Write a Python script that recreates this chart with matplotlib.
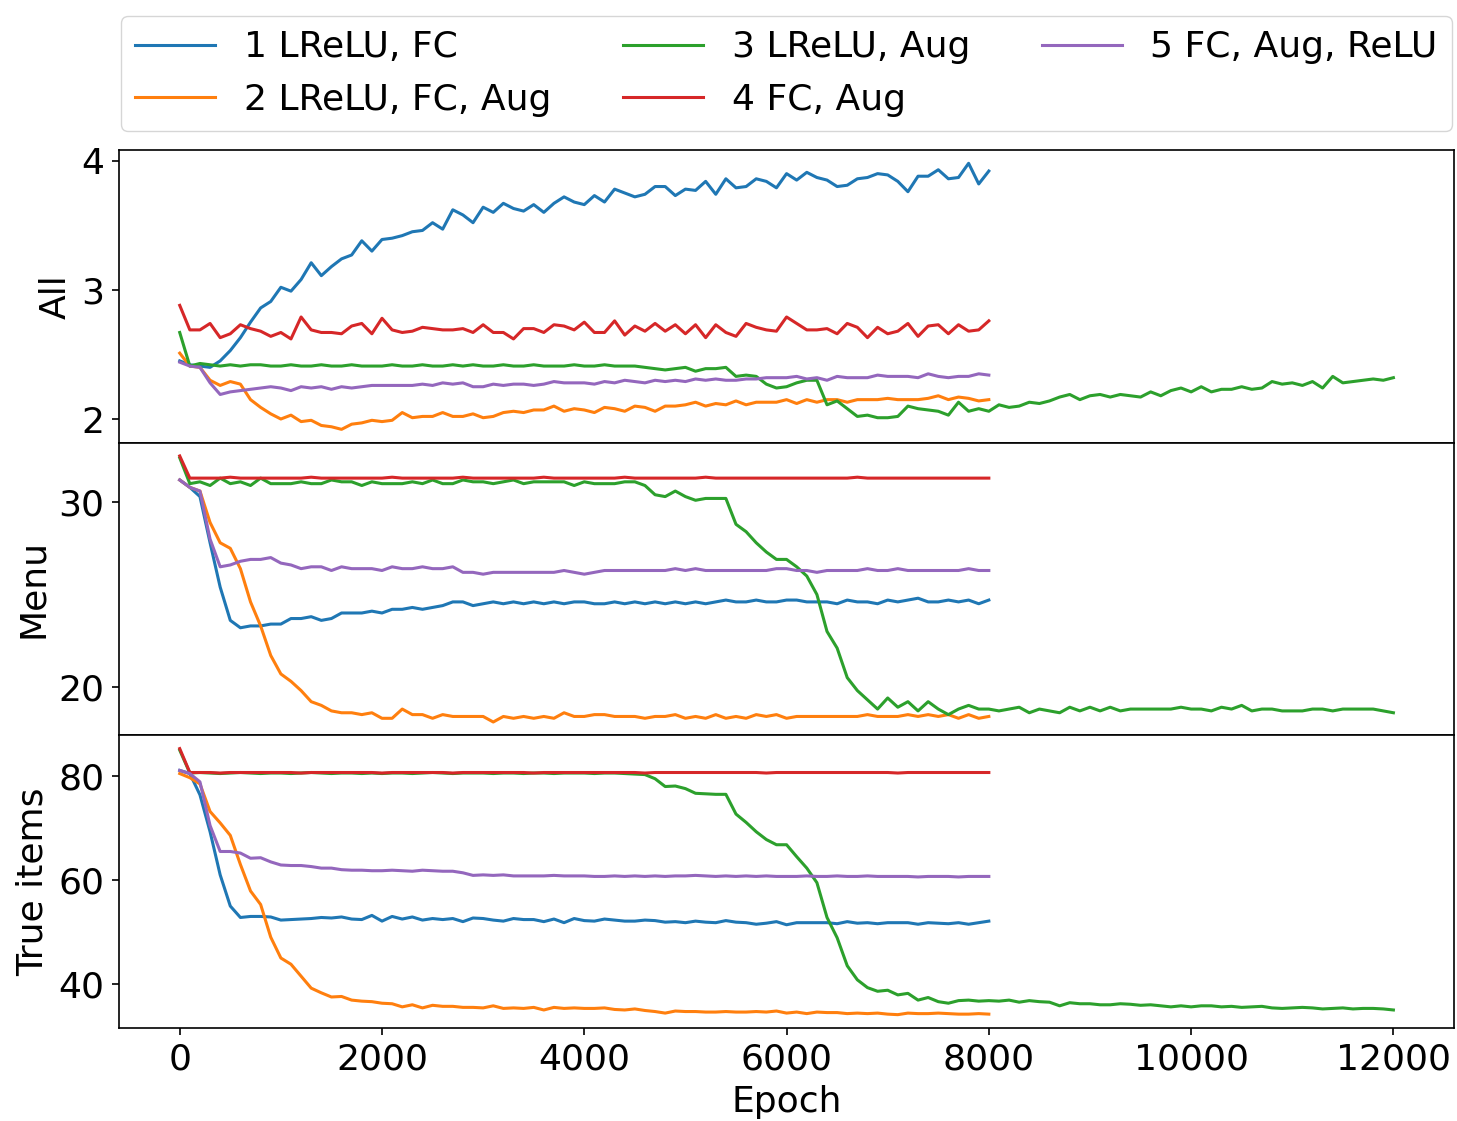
import numpy as np
import matplotlib
matplotlib.use("Agg")
import matplotlib.pyplot as plt

# ---------------- data ----------------
labels = ["1 LReLU, FC", "2 LReLU, FC, Aug", "3 LReLU, Aug", "4 FC, Aug", "5 FC, Aug, ReLU"]
panel_names = ["All", "Menu", "True items"]

epochs_8k = list(range(0, 8001, 100))
epochs_12k = list(range(0, 12001, 100))

# ---- panel "All" ----
all_lrelu_fc = [
    2.45, 2.42, 2.41, 2.40, 2.45, 2.53, 2.63, 2.75, 2.86, 2.91,
    3.02, 2.99, 3.08, 3.21, 3.11, 3.18, 3.24, 3.27, 3.38, 3.30,
    3.39, 3.40, 3.42, 3.45, 3.46, 3.52, 3.47, 3.62, 3.58, 3.52,
    3.64, 3.60, 3.67, 3.63, 3.61, 3.66, 3.60, 3.67, 3.72, 3.68,
    3.66, 3.73, 3.68, 3.78, 3.75, 3.72, 3.74, 3.80, 3.80, 3.73,
    3.78, 3.77, 3.84, 3.74, 3.86, 3.79, 3.80, 3.86, 3.84, 3.79,
    3.90, 3.85, 3.91, 3.87, 3.85, 3.80, 3.81, 3.86, 3.87, 3.90,
    3.89, 3.84, 3.76, 3.88, 3.88, 3.93, 3.86, 3.87, 3.98, 3.82,
    3.92]
all_lrelu_fc_aug = [
    2.51, 2.41, 2.40, 2.30, 2.26, 2.29, 2.27, 2.15, 2.09, 2.04,
    2.00, 2.03, 1.98, 1.99, 1.95, 1.94, 1.92, 1.96, 1.97, 1.99,
    1.98, 1.99, 2.05, 2.01, 2.02, 2.02, 2.05, 2.02, 2.02, 2.04,
    2.01, 2.02, 2.05, 2.06, 2.05, 2.07, 2.07, 2.10, 2.06, 2.08,
    2.07, 2.05, 2.09, 2.08, 2.06, 2.10, 2.09, 2.06, 2.10, 2.10,
    2.11, 2.13, 2.10, 2.12, 2.11, 2.14, 2.11, 2.13, 2.13, 2.13,
    2.15, 2.12, 2.15, 2.13, 2.15, 2.15, 2.13, 2.15, 2.15, 2.15,
    2.16, 2.15, 2.15, 2.15, 2.16, 2.18, 2.15, 2.17, 2.16, 2.14,
    2.15]
all_lrelu_aug = [
    2.67, 2.41, 2.43, 2.42, 2.41, 2.42, 2.41, 2.42, 2.42, 2.41,
    2.41, 2.42, 2.41, 2.41, 2.42, 2.41, 2.41, 2.42, 2.41, 2.41,
    2.41, 2.42, 2.41, 2.41, 2.42, 2.41, 2.41, 2.42, 2.41, 2.42,
    2.41, 2.41, 2.42, 2.41, 2.41, 2.42, 2.41, 2.41, 2.41, 2.42,
    2.41, 2.41, 2.42, 2.41, 2.41, 2.41, 2.40, 2.39, 2.38, 2.39,
    2.40, 2.37, 2.39, 2.39, 2.40, 2.33, 2.34, 2.33, 2.27, 2.24,
    2.25, 2.28, 2.30, 2.30, 2.11, 2.14, 2.08, 2.02, 2.03, 2.01,
    2.01, 2.02, 2.10, 2.08, 2.07, 2.06, 2.03, 2.13, 2.06, 2.08,
    2.06, 2.11, 2.09, 2.10, 2.13, 2.12, 2.14, 2.17, 2.19, 2.15,
    2.18, 2.19, 2.17, 2.19, 2.18, 2.17, 2.21, 2.18, 2.22, 2.24,
    2.21, 2.25, 2.21, 2.23, 2.23, 2.25, 2.23, 2.24, 2.29, 2.27,
    2.28, 2.26, 2.29, 2.24, 2.33, 2.28, 2.29, 2.30, 2.31, 2.30,
    2.32]
all_fc_aug = [
    2.88, 2.69, 2.69, 2.74, 2.63, 2.66, 2.73, 2.70, 2.68, 2.64,
    2.67, 2.62, 2.79, 2.69, 2.67, 2.67, 2.66, 2.72, 2.74, 2.66,
    2.78, 2.69, 2.67, 2.68, 2.71, 2.70, 2.69, 2.69, 2.70, 2.67,
    2.73, 2.67, 2.67, 2.62, 2.70, 2.70, 2.67, 2.73, 2.72, 2.69,
    2.75, 2.67, 2.67, 2.76, 2.65, 2.72, 2.68, 2.74, 2.68, 2.73,
    2.66, 2.73, 2.63, 2.73, 2.67, 2.64, 2.74, 2.71, 2.69, 2.68,
    2.79, 2.74, 2.69, 2.69, 2.70, 2.66, 2.74, 2.71, 2.63, 2.71,
    2.66, 2.68, 2.74, 2.64, 2.72, 2.73, 2.66, 2.73, 2.68, 2.69,
    2.76]
all_fc_aug_relu = [
    2.44, 2.41, 2.40, 2.28, 2.19, 2.21, 2.22, 2.23, 2.24, 2.25,
    2.24, 2.22, 2.25, 2.24, 2.25, 2.23, 2.25, 2.24, 2.25, 2.26,
    2.26, 2.26, 2.26, 2.26, 2.27, 2.26, 2.28, 2.27, 2.28, 2.25,
    2.25, 2.27, 2.26, 2.27, 2.27, 2.26, 2.27, 2.29, 2.28, 2.28,
    2.28, 2.27, 2.29, 2.28, 2.30, 2.29, 2.28, 2.30, 2.29, 2.30,
    2.29, 2.31, 2.30, 2.31, 2.30, 2.30, 2.31, 2.31, 2.32, 2.32,
    2.32, 2.33, 2.31, 2.32, 2.30, 2.33, 2.32, 2.32, 2.32, 2.34,
    2.33, 2.33, 2.33, 2.32, 2.35, 2.33, 2.32, 2.33, 2.33, 2.35,
    2.34]

# ---- panel "Menu" ----
menu_lrelu_fc = [
    31.2, 30.8, 30.3, 27.8, 25.4, 23.6, 23.2, 23.3, 23.3, 23.4,
    23.4, 23.7, 23.7, 23.8, 23.6, 23.7, 24.0, 24.0, 24.0, 24.1,
    24.0, 24.2, 24.2, 24.3, 24.2, 24.3, 24.4, 24.6, 24.6, 24.4,
    24.5, 24.6, 24.5, 24.6, 24.5, 24.6, 24.5, 24.6, 24.5, 24.6,
    24.6, 24.5, 24.5, 24.6, 24.5, 24.6, 24.5, 24.6, 24.5, 24.6,
    24.5, 24.6, 24.5, 24.6, 24.7, 24.6, 24.6, 24.7, 24.6, 24.6,
    24.7, 24.7, 24.6, 24.6, 24.6, 24.5, 24.7, 24.6, 24.6, 24.5,
    24.7, 24.6, 24.7, 24.8, 24.6, 24.6, 24.7, 24.6, 24.7, 24.5,
    24.7]
menu_lrelu_fc_aug = [
    31.2, 30.8, 30.6, 28.9, 27.8, 27.5, 26.4, 24.6, 23.3, 21.7,
    20.7, 20.3, 19.8, 19.2, 19.0, 18.7, 18.6, 18.6, 18.5, 18.6,
    18.3, 18.3, 18.8, 18.5, 18.5, 18.3, 18.5, 18.4, 18.4, 18.4,
    18.4, 18.1, 18.4, 18.3, 18.4, 18.3, 18.4, 18.3, 18.6, 18.4,
    18.4, 18.5, 18.5, 18.4, 18.4, 18.4, 18.3, 18.4, 18.4, 18.5,
    18.3, 18.4, 18.3, 18.5, 18.3, 18.4, 18.3, 18.5, 18.4, 18.5,
    18.3, 18.4, 18.4, 18.4, 18.4, 18.4, 18.4, 18.4, 18.5, 18.4,
    18.4, 18.4, 18.5, 18.4, 18.5, 18.4, 18.5, 18.3, 18.5, 18.3,
    18.4]
menu_lrelu_aug = [
    32.4, 31.0, 31.1, 30.9, 31.3, 31.0, 31.1, 30.9, 31.3, 31.0,
    31.0, 31.0, 31.1, 31.0, 31.0, 31.2, 31.1, 31.1, 30.9, 31.1,
    31.0, 31.0, 31.0, 31.1, 31.0, 31.2, 31.0, 31.0, 31.2, 31.1,
    31.1, 31.0, 31.1, 31.2, 31.0, 31.1, 31.1, 31.1, 31.1, 30.9,
    31.1, 31.0, 31.0, 31.0, 31.1, 31.1, 30.9, 30.4, 30.3, 30.6,
    30.3, 30.1, 30.2, 30.2, 30.2, 28.8, 28.4, 27.8, 27.3, 26.9,
    26.9, 26.5, 26.0, 25.0, 23.0, 22.1, 20.5, 19.8, 19.3, 18.8,
    19.4, 18.9, 19.2, 18.7, 19.2, 18.8, 18.5, 18.8, 19.0, 18.8,
    18.8, 18.7, 18.8, 18.9, 18.6, 18.8, 18.7, 18.6, 18.9, 18.7,
    18.9, 18.7, 18.9, 18.7, 18.8, 18.8, 18.8, 18.8, 18.8, 18.9,
    18.8, 18.8, 18.7, 18.9, 18.8, 19.0, 18.7, 18.8, 18.8, 18.7,
    18.7, 18.7, 18.8, 18.8, 18.7, 18.8, 18.8, 18.8, 18.8, 18.7,
    18.6]
menu_fc_aug = [
    32.5, 31.3, 31.3, 31.3, 31.3, 31.35, 31.3, 31.3, 31.3, 31.3,
    31.3, 31.3, 31.3, 31.35, 31.3, 31.3, 31.3, 31.3, 31.3, 31.3,
    31.3, 31.35, 31.3, 31.3, 31.3, 31.3, 31.3, 31.3, 31.35, 31.3,
    31.3, 31.3, 31.3, 31.3, 31.3, 31.3, 31.35, 31.3, 31.3, 31.3,
    31.3, 31.3, 31.3, 31.3, 31.35, 31.3, 31.3, 31.3, 31.3, 31.3,
    31.3, 31.3, 31.35, 31.3, 31.3, 31.3, 31.3, 31.3, 31.3, 31.3,
    31.3, 31.3, 31.3, 31.3, 31.3, 31.3, 31.3, 31.35, 31.3, 31.3,
    31.3, 31.3, 31.3, 31.3, 31.3, 31.3, 31.3, 31.3, 31.3, 31.3,
    31.3]
menu_fc_aug_relu = [
    31.2, 30.8, 30.6, 28.0, 26.5, 26.6, 26.8, 26.9, 26.9, 27.0,
    26.7, 26.6, 26.4, 26.5, 26.5, 26.3, 26.5, 26.4, 26.4, 26.4,
    26.3, 26.5, 26.4, 26.4, 26.5, 26.4, 26.4, 26.5, 26.2, 26.2,
    26.1, 26.2, 26.2, 26.2, 26.2, 26.2, 26.2, 26.2, 26.3, 26.2,
    26.1, 26.2, 26.3, 26.3, 26.3, 26.3, 26.3, 26.3, 26.3, 26.4,
    26.3, 26.4, 26.3, 26.3, 26.3, 26.3, 26.3, 26.3, 26.3, 26.4,
    26.4, 26.3, 26.3, 26.2, 26.3, 26.3, 26.3, 26.3, 26.4, 26.3,
    26.3, 26.4, 26.3, 26.3, 26.3, 26.3, 26.3, 26.3, 26.4, 26.3,
    26.3]

# ---- panel "True items" ----
true_lrelu_fc = [
    81.1, 80.5, 76.4, 69.3, 61.0, 55.0, 52.8, 53.0, 53.0, 52.9,
    52.3, 52.4, 52.5, 52.6, 52.8, 52.7, 52.9, 52.5, 52.4, 53.2,
    52.1, 53.0, 52.5, 52.9, 52.3, 52.6, 52.4, 52.6, 52.0, 52.7,
    52.6, 52.3, 52.1, 52.6, 52.4, 52.4, 52.0, 52.5, 51.8, 52.6,
    52.2, 52.1, 52.5, 52.3, 52.1, 52.1, 52.3, 52.2, 51.9, 52.0,
    51.8, 52.1, 51.9, 51.8, 52.2, 51.9, 51.8, 51.5, 51.7, 52.0,
    51.4, 51.8, 51.8, 51.8, 51.8, 51.6, 52.0, 51.7, 51.8, 51.6,
    51.8, 51.8, 51.8, 51.5, 51.8, 51.7, 51.6, 51.8, 51.5, 51.8,
    52.1]
true_lrelu_fc_aug = [
    80.5, 79.7, 78.5, 73.2, 71.0, 68.6, 63.0, 57.9, 55.3, 49.0,
    45.0, 43.8, 41.5, 39.2, 38.3, 37.5, 37.6, 36.9, 36.7, 36.6,
    36.3, 36.2, 35.6, 36.0, 35.4, 35.9, 35.7, 35.7, 35.5, 35.5,
    35.4, 35.8, 35.3, 35.4, 35.3, 35.5, 35.0, 35.5, 35.3, 35.4,
    35.3, 35.3, 35.4, 35.1, 35.0, 35.2, 34.9, 34.7, 34.4, 34.8,
    34.7, 34.7, 34.6, 34.6, 34.7, 34.6, 34.6, 34.7, 34.6, 34.8,
    34.4, 34.6, 34.3, 34.6, 34.5, 34.5, 34.3, 34.4, 34.3, 34.4,
    34.2, 34.1, 34.4, 34.3, 34.3, 34.4, 34.3, 34.2, 34.2, 34.3,
    34.2]
true_lrelu_aug = [
    85.0, 80.6, 80.7, 80.6, 80.5, 80.6, 80.7, 80.6, 80.5, 80.6,
    80.6, 80.5, 80.6, 80.7, 80.6, 80.5, 80.6, 80.6, 80.5, 80.6,
    80.5, 80.6, 80.6, 80.5, 80.6, 80.7, 80.6, 80.5, 80.6, 80.6,
    80.6, 80.5, 80.6, 80.6, 80.5, 80.6, 80.6, 80.5, 80.6, 80.6,
    80.6, 80.5, 80.6, 80.6, 80.5, 80.4, 80.3, 79.5, 78.0, 78.1,
    77.6, 76.7, 76.6, 76.5, 76.5, 72.7, 71.1, 69.3, 67.8, 66.8,
    66.8, 64.5, 62.3, 59.5, 52.8, 48.9, 43.5, 40.8, 39.3, 38.6,
    38.8, 37.9, 38.2, 36.9, 37.4, 36.6, 36.3, 36.8, 36.9, 36.7,
    36.8, 36.7, 36.9, 36.5, 36.8, 36.6, 36.5, 35.8, 36.4, 36.2,
    36.2, 36.0, 36.0, 36.2, 36.1, 35.9, 36.0, 35.8, 35.6, 35.8,
    35.6, 35.8, 35.8, 35.6, 35.7, 35.5, 35.6, 35.7, 35.4, 35.3,
    35.4, 35.5, 35.4, 35.2, 35.3, 35.4, 35.2, 35.3, 35.3, 35.2,
    35.0]
true_fc_aug = [
    85.3, 80.7, 80.7, 80.7, 80.6, 80.7, 80.7, 80.7, 80.7, 80.7,
    80.7, 80.7, 80.6, 80.7, 80.7, 80.7, 80.7, 80.7, 80.7, 80.7,
    80.6, 80.7, 80.7, 80.7, 80.7, 80.7, 80.7, 80.6, 80.7, 80.7,
    80.7, 80.7, 80.7, 80.7, 80.7, 80.6, 80.7, 80.7, 80.7, 80.7,
    80.7, 80.7, 80.7, 80.7, 80.7, 80.7, 80.6, 80.7, 80.7, 80.7,
    80.7, 80.7, 80.7, 80.7, 80.7, 80.7, 80.7, 80.7, 80.6, 80.7,
    80.7, 80.7, 80.7, 80.7, 80.7, 80.7, 80.7, 80.7, 80.7, 80.7,
    80.7, 80.6, 80.7, 80.7, 80.7, 80.7, 80.7, 80.7, 80.7, 80.7,
    80.7]
true_fc_aug_relu = [
    81.1, 80.5, 78.9, 70.5, 65.5, 65.5, 65.2, 64.2, 64.3, 63.5,
    62.9, 62.8, 62.8, 62.6, 62.3, 62.3, 62.0, 61.9, 61.9, 61.8,
    61.8, 61.9, 61.8, 61.7, 61.9, 61.8, 61.7, 61.7, 61.4, 60.9,
    61.0, 60.9, 61.0, 60.8, 60.8, 60.8, 60.8, 60.9, 60.8, 60.8,
    60.8, 60.7, 60.7, 60.8, 60.7, 60.8, 60.7, 60.8, 60.7, 60.8,
    60.8, 60.9, 60.8, 60.7, 60.8, 60.7, 60.8, 60.7, 60.8, 60.7,
    60.7, 60.7, 60.8, 60.7, 60.7, 60.8, 60.7, 60.7, 60.8, 60.7,
    60.7, 60.7, 60.7, 60.6, 60.7, 60.7, 60.7, 60.6, 60.7, 60.7,
    60.7]

panel_series = [
    [all_lrelu_fc, all_lrelu_fc_aug, all_lrelu_aug, all_fc_aug, all_fc_aug_relu],
    [menu_lrelu_fc, menu_lrelu_fc_aug, menu_lrelu_aug, menu_fc_aug, menu_fc_aug_relu],
    [true_lrelu_fc, true_lrelu_fc_aug, true_lrelu_aug, true_fc_aug, true_fc_aug_relu],
]
series_epochs = [epochs_8k, epochs_8k, epochs_12k, epochs_8k, epochs_8k]
panel_yticks = [[2, 3, 4], [20, 30], [40, 60, 80]]
x_ticks = [0, 2000, 4000, 6000, 8000, 10000, 12000]

# ---------------- plot ----------------
FS = 26
plt.rcParams.update({
    "font.size": FS,
    "axes.linewidth": 1.2,
    "xtick.major.width": 1.2,
    "ytick.major.width": 1.2,
    "xtick.major.size": 5.3,
    "ytick.major.size": 5.3,
    "xtick.major.pad": 5.25,
    "ytick.major.pad": 5.25,
    "axes.labelpad": 6.0,
})
colors = plt.rcParams["axes.prop_cycle"].by_key()["color"]

fig, axes = plt.subplots(3, 1, sharex=True, figsize=(14.57, 11.21), dpi=100)
fig.subplots_adjust(left=0.0817, right=0.998, top=0.8662, bottom=0.083, hspace=0)

for ax, series, name, yt in zip(axes, panel_series, panel_names, panel_yticks):
    for i, (vals, ep) in enumerate(zip(series, series_epochs)):
        ax.plot(ep, vals, color=colors[i], lw=2.2, label=labels[i])
    ax.set_ylabel(name)
    ax.set_yticks(yt)

axes[-1].set_xlabel("Epoch")
axes[-1].set_xticks(x_ticks)

axes[0].legend(loc="lower left", bbox_to_anchor=(0.0015, 1.065, 0.997, 0.3), mode="expand",
               ncol=3, borderaxespad=0, fontsize=FS, handlelength=2.2)

fig.savefig("out.png", dpi=100)
